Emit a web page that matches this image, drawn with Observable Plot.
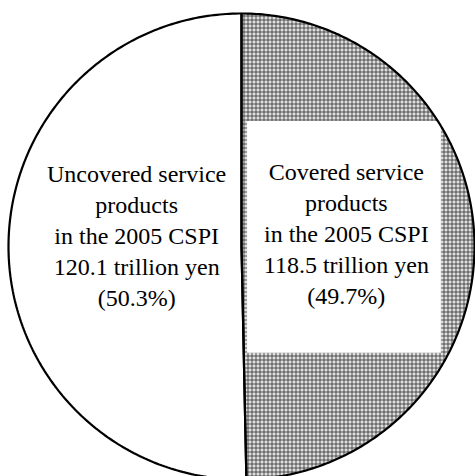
<!DOCTYPE html>
<html><head><meta charset="utf-8">
<script src="https://cdn.jsdelivr.net/npm/d3@7"></script>
<script src="https://cdn.jsdelivr.net/npm/@observablehq/plot@0.6"></script>
<style>body{margin:0;background:#fff}</style>
</head><body><div id="chart"></div>
<script>
// Data
const categories = ["Covered service products", "Uncovered service products"];
const values = [118.5, 120.1];          // trillion yen
const shares = ["49.7%", "50.3%"];
const labelLines = [
  ["Covered service", "products", "in the 2005 CSPI"],
  ["Uncovered service", "products", "in the 2005 CSPI"]
];
const fills = ["url(#hatch)", "white"];

const rows = categories.map((c, i) => ({
  name: c, value: values[i], share: shares[i], fill: fills[i],
  label: [...labelLines[i], `${values[i]} trillion yen`, `(${shares[i]})`].join("\n")
}));

const arcs = d3.pie().sort(null).value(d => d.value)(rows);
const N = 240;
const pts = [];
for (const a of arcs) {
  pts.push({name: a.data.name, x: 0, y: 0});
  for (let k = 0; k <= N; k++) {
    const t = a.startAngle + (a.endAngle - a.startAngle) * k / N;
    pts.push({name: a.data.name, x: Math.sin(t), y: Math.cos(t)});
  }
  pts.push({name: a.data.name, x: 0, y: 0});
}
const LR = 0.45, LDY = 0.056;
const labels = arcs.map(a => {
  const m = (a.startAngle + a.endAngle) / 2;
  return {...a.data, lx: LR * Math.sin(m), ly: LR * Math.cos(m) + LDY};
});
const boxed = labels.filter(d => d.fill !== "white");

const R = 233, CX = 241, CY = 246, W = 475, H = 476;
const FONT = "Liberation Serif, Times New Roman, Times, serif";
const plot = Plot.plot({
  width: W, height: H,
  margin: 0,
  x: {domain: [-CX / R, (W - CX) / R], axis: null},
  y: {domain: [-(H - CY) / R, CY / R], axis: null},
  style: {background: "white"},
  marks: [
    ...arcs.map(a => Plot.line(pts.filter(p => p.name === a.data.name), {
      x: "x", y: "y", fill: a.data.fill, stroke: "none"
    })),
    Plot.rect(boxed, {
      x1: d => d.lx - 0.424, x2: d => d.lx + 0.408,
      y1: d => d.ly - 0.519, y2: d => d.ly + 0.476,
      fill: "white"
    }),
    Plot.line(pts, {x: "x", y: "y", z: "name", stroke: "black", strokeWidth: 2.2, strokeLinejoin: "miter"}),
    Plot.text(labels, {
      x: "lx", y: "ly", text: "label", fontSize: 24, lineHeight: 1.292,
      fontFamily: FONT, fill: "black", textAnchor: "middle"
    })
  ]
});

const svg = d3.select(plot);
svg.attr("font-family", FONT);
const defs = svg.insert("defs", ":first-child");
const pat = defs.append("pattern").attr("id", "hatch")
  .attr("patternUnits", "userSpaceOnUse").attr("width", 4).attr("height", 4)
  .attr("shape-rendering", "crispEdges");
pat.append("rect").attr("width", 4).attr("height", 4).attr("fill", "#7a7a7a");
pat.append("rect").attr("x", 1).attr("y", 0).attr("width", 1).attr("height", 3).attr("fill", "#ffffff");
pat.append("rect").attr("x", 0).attr("y", 1).attr("width", 3).attr("height", 1).attr("fill", "#ffffff");
pat.append("rect").attr("x", 3).attr("y", 3).attr("width", 1).attr("height", 1).attr("fill", "#4a4a4a");
document.getElementById("chart").appendChild(plot);
</script>
</body></html>
